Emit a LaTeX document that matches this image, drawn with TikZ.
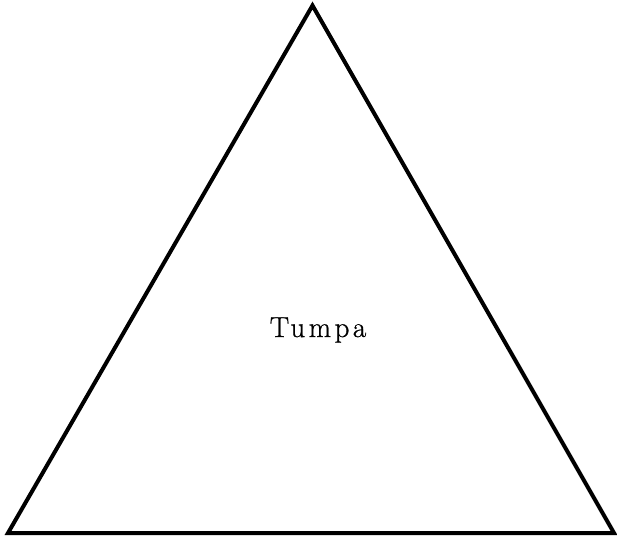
\documentclass[tikz,border=0pt]{standalone}
\usepackage{fontspec}
\setmainfont{Latin Modern Roman}
\newfontfamily\labelfont{Latin Modern Roman}[LetterSpace=12,FakeBold=0.8]
\begin{document}
\begin{tikzpicture}[x=1pt,y=-1pt,
  edge/.style={line width=4pt,line join=miter,black},
  lbl/.style={font=\labelfont\fontsize{29}{32}\selectfont,inner sep=0pt,anchor=base}]
\useasboundingbox (0,0) rectangle (617,543);
\coordinate (A) at (312.5,5.5);
\coordinate (B) at (8,533);
\coordinate (C) at (614,533);
\draw[edge] (A) -- (B) -- (C) -- cycle;
\node[lbl] (t) at (318,337) {Tumpa};
\end{tikzpicture}
\end{document}
